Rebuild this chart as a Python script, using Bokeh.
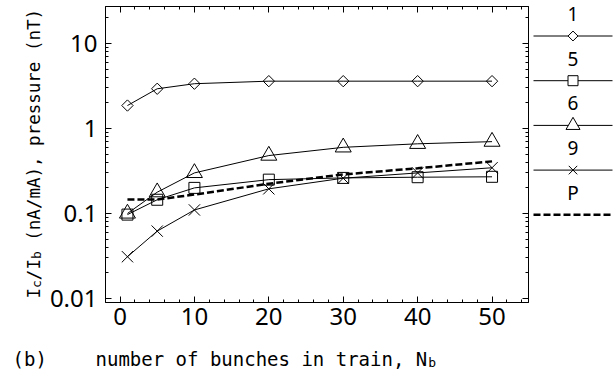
import numpy as np
from bokeh.plotting import figure
from bokeh.models import (Range1d, FixedTicker, LinearAxis, LogAxis,
                          CustomJSTickFormatter)
from bokeh.layouts import row, column
from bokeh.embed import file_html
from bokeh.resources import INLINE
from bokeh.core.properties import value

# ---------------- data ----------------
nb = [1, 5, 10, 20, 30, 40, 50]
series_1 = [1.86, 2.93, 3.36, 3.60, 3.60, 3.60, 3.60]      # diamonds
series_5 = [0.097, 0.145, 0.200, 0.250, 0.262, 0.267, 0.270]  # squares
series_6 = [0.100, 0.178, 0.300, 0.480, 0.600, 0.660, 0.700]  # triangles
series_9 = [0.031, 0.062, 0.110, 0.195, 0.260, 0.300, 0.345]  # crosses
pressure = [0.146, 0.146, 0.167, 0.224, 0.288, 0.340, 0.410]  # dashed P

legend_labels = ["1", "5", "6", "9", "P"]
x_ticks = [0, 10, 20, 30, 40, 50]
y_ticks = [0.01, 0.1, 1, 10]

# y title pieces: (text, is_subscript, leading spaces)
y_title_parts = ["I", "c", "/I", "b", "(nA/mA), pressure (nT)"]
y_title_is_sub = [False, True, False, True, False]
y_title_gap = [0, 0, 0, 0, 1]
x_title = "number of bunches in train, N"
x_title_sub = "b"
panel_tag = "(b)"

FONT = "DejaVu Sans Mono"
TICK_FONT = "Noto Sans"
CW = 0.602  # advance width of the monospace font, in em

# ---------------- layout constants (canvas pixels) ----------------
TOTAL_W, TOTAL_H = 613, 374
LEFT_W = 46                     # strip holding the y title
FRAME_L, FRAME_T = 103, 6
FRAME_W, FRAME_H = 423, 296
TOP_H = 338                     # height of the upper row
LEG_L = FRAME_L + FRAME_W + 1   # legend strip starts here
Y_LO, Y_HI = 0.00897, 27.2
X_LO, X_HI = -1.95, 54.9

x_minor = list(range(-2, 55, 2))
y_minor = [k * 10.0 ** e for e in (-2, -1, 0, 1) for k in range(2, 10)
           if Y_LO < k * 10.0 ** e < Y_HI]


def blank(width, height, x0, x1, y0, y1):
    f = figure(width=width, height=height, x_range=Range1d(x0, x1),
               y_range=Range1d(y1, y0), output_backend="svg",
               toolbar_location=None, min_border=0, x_axis_location=None,
               y_axis_location=None, outline_line_color=None,
               background_fill_color="white", border_fill_color="white",
               frame_align=False)
    f.grid.visible = False
    return f


# ---------------- main plot ----------------
p = figure(frame_width=FRAME_W, frame_height=FRAME_H,
           x_range=Range1d(X_LO, X_HI), y_range=Range1d(Y_LO, Y_HI),
           y_axis_type="log", output_backend="svg", toolbar_location=None,
           min_border_left=FRAME_L - LEFT_W, min_border_top=FRAME_T,
           min_border_bottom=TOP_H - FRAME_T - FRAME_H, min_border_right=1,
           background_fill_color="white", border_fill_color="white",
           frame_align=False)
p.grid.visible = False
p.outline_line_color = "black"
p.outline_line_width = 1

top_ax = LinearAxis()
right_ax = LogAxis()
p.add_layout(top_ax, "above")
p.add_layout(right_ax, "right")

p.xaxis.ticker = FixedTicker(ticks=x_ticks, minor_ticks=x_minor)
p.yaxis.ticker = FixedTicker(ticks=y_ticks, minor_ticks=y_minor)
p.yaxis.formatter = CustomJSTickFormatter(code="return tick.toString();")

for ax in p.axis:
    ax.axis_line_color = "black"
    ax.major_tick_line_color = "black"
    ax.minor_tick_line_color = "black"
    ax.major_tick_in = 6
    ax.major_tick_out = 0
    ax.minor_tick_in = 3
    ax.minor_tick_out = 0
    ax.major_label_text_font = TICK_FONT
    ax.major_label_text_font_size = "24px"
    ax.major_label_text_color = "black"

p.xaxis.major_label_standoff = 5
p.yaxis.major_label_standoff = 8

for ax in (top_ax, right_ax):
    ax.major_label_text_font_size = "0px"
    ax.major_label_standoff = 0
    ax.formatter = CustomJSTickFormatter(code="return '';")

line_kw = dict(line_color="black", line_width=1)
mk_kw = dict(line_color="black", fill_alpha=0, line_width=1)

p.line(nb, series_1, **line_kw)
p.scatter(nb, series_1, marker="square", angle=np.pi / 4, size=8, **mk_kw)
p.line(nb, series_5, **line_kw)
p.scatter(nb, series_5, marker="square", size=11, **mk_kw)
p.line(nb, series_6, **line_kw)
p.scatter(nb, series_6, marker="triangle", size=16, **mk_kw)
p.line(nb, series_9, **line_kw)
p.scatter(nb, series_9, marker="x", size=16, **mk_kw)
p.line(nb, pressure, line_color="black", line_width=2.5, line_dash="7 3")

# ---------------- y title strip (left) ----------------
yt = blank(LEFT_W, TOP_H, 0, LEFT_W, 0, TOP_H)
S, SUB = 17.5, 13
base_x, sub_shift, start_y = 33, 3, 298
pos = start_y
for txt, is_sub, gap in zip(y_title_parts, y_title_is_sub, y_title_gap):
    fs = SUB if is_sub else S
    pos -= gap * CW * fs
    yt.text(x=[base_x + (sub_shift if is_sub else 0)], y=[pos], text=[txt],
            angle=np.pi / 2, text_font=value(FONT), text_font_size=f"{fs}px",
            text_align="left", text_baseline="alphabetic", text_color="black")
    pos -= len(txt) * CW * fs

# ---------------- legend strip (right) ----------------
lg = blank(TOTAL_W - LEG_L, TOP_H, LEG_L, TOTAL_W, 0, TOP_H)
LEG_X0, LEG_X1 = 531, 610
LEG_CX = (LEG_X0 + LEG_X1) / 2
LEG_Y0, LEG_STEP, LEG_TXT = 35.5, 44.7, 22
line_y = [LEG_Y0 + i * LEG_STEP for i in range(len(legend_labels))]
txt_y = [y - LEG_TXT for y in line_y]

lg.text(x=[LEG_CX] * len(legend_labels), y=txt_y, text=legend_labels,
        text_font=value(TICK_FONT), text_font_size="19px", text_align="center",
        text_baseline="middle", text_color="black")
for i in range(4):
    lg.line([LEG_X0, LEG_X1], [line_y[i]] * 2, line_color="black", line_width=1)
lg.line([LEG_X0, LEG_X1], [line_y[4]] * 2, line_color="black", line_width=2.5,
        line_dash="7 3")
lg.scatter([LEG_CX], [line_y[0]], marker="square", angle=np.pi / 4, size=7,
           line_color="black", fill_color="white")
lg.scatter([LEG_CX], [line_y[1]], marker="square", size=10,
           line_color="black", fill_color="white")
lg.scatter([LEG_CX], [line_y[2]], marker="triangle", size=14,
           line_color="black", fill_color="white")
lg.scatter([LEG_CX], [line_y[3]], marker="x", size=12,
           line_color="black", fill_color="white")

# ---------------- bottom strip (x title and panel tag) ----------------
bt = blank(TOTAL_W, TOTAL_H - TOP_H, 0, TOTAL_W, TOP_H, TOTAL_H)
XT = 19
xt_x, xt_y = 95, 358
bt.text(x=[xt_x], y=[xt_y], text=[x_title], text_font=value(FONT),
        text_font_size=f"{XT}px", text_align="left",
        text_baseline="alphabetic", text_color="black")
bt.text(x=[xt_x + len(x_title) * CW * XT + 1], y=[xt_y + 4], text=[x_title_sub],
        text_font=value(FONT), text_font_size="13px", text_align="left",
        text_baseline="alphabetic", text_color="black")
bt.text(x=[12], y=[xt_y], text=[panel_tag], text_font=value(FONT),
        text_font_size=f"{XT}px", text_align="left",
        text_baseline="alphabetic", text_color="black")

layout = column(row(yt, p, lg, spacing=0), bt, spacing=0)
open("out.html", "w").write(file_html(layout, INLINE))
